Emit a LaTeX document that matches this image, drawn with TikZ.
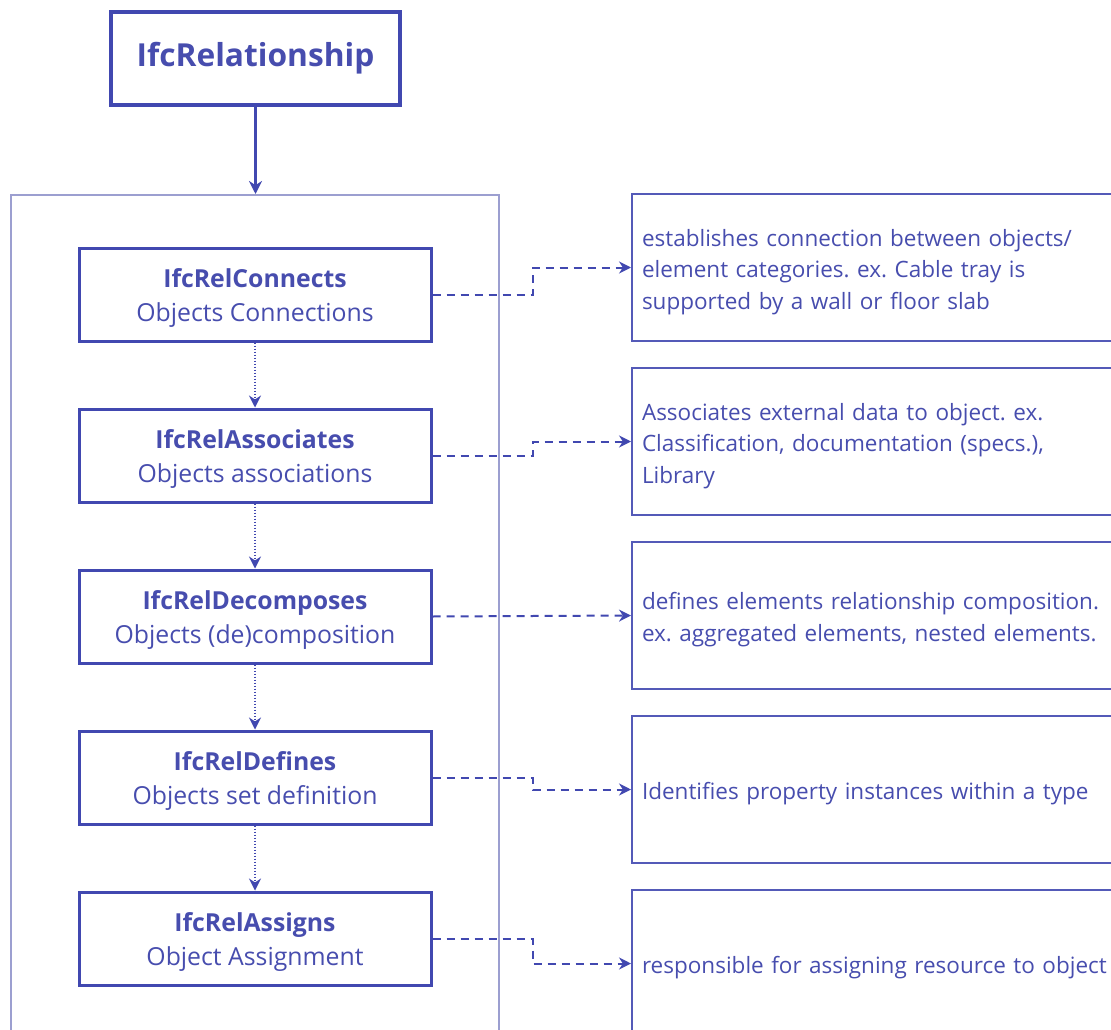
\documentclass[tikz,border=0pt]{standalone}
\usepackage{fontspec}
\setmainfont{Open Sans}
\usetikzlibrary{arrows.meta}
\definecolor{ink}{HTML}{4148B0}
\definecolor{txt}{HTML}{474DAE}
\definecolor{frame}{HTML}{9C9FD0}
\frenchspacing
% invisible rule that gives the first text line extra height
\newcommand\firstline[1]{\rule{0pt}{#1}}
\begin{document}
\begin{tikzpicture}[x=1pt,y=-1pt,
  titlebox/.style={draw=ink, line width=4.5pt, minimum width=289pt, minimum height=93pt,
    inner sep=0pt, text=txt, font=\fontsize{31.7}{38}\selectfont\bfseries},
  relbox/.style={draw=ink, line width=3pt, minimum width=352pt, minimum height=93pt,
    inner sep=0pt, align=center, text=txt, font=\fontsize{24.8}{34}\selectfont},
  descbox/.style={draw=ink!90, line width=2pt, anchor=west, minimum width=540pt,
    minimum height=147pt, inner xsep=2.5pt, inner ysep=0pt, text width=520pt, align=left,
    text=txt, font=\fontsize{22.5}{31.5}\selectfont},
  link/.style={draw=ink, line width=2pt, dash pattern=on 8pt off 6pt,
    -{Stealth[length=12pt,width=12pt]}},
  flow/.style={draw=ink, line width=1.3pt, dash pattern=on 1.3pt off 1.7pt,
    -{Stealth[length=12pt,width=12pt]}}]
\useasboundingbox (0,0) rectangle (1111,1030);
\clip (0,0) rectangle (1111,1030);

% root entity
\node[titlebox] (root) at (255.5,58.5) {IfcRelationship};

% grouping frame of the relationship subtypes
\node[draw=frame, line width=1.5pt, minimum width=488pt, minimum height=850pt,
  inner sep=0pt, anchor=north west] (group) at (10,194) {};

% subtypes
\node[relbox] (c1) at (255,294.5) {\firstline{25pt}\textbf{IfcRelConnects}\\Objects Connections};
\node[relbox] (c2) at (255,455.5) {\firstline{25pt}\textbf{IfcRelAssociates}\\Objects associations};
\node[relbox] (c3) at (255,616.5) {\firstline{25pt}\textbf{IfcRelDecomposes}\\Objects (de)composition};
\node[relbox] (c4) at (255,777.5) {\firstline{25pt}\textbf{IfcRelDefines}\\Objects set definition};
\node[relbox] (c5) at (255,938.5) {\firstline{25pt}\textbf{IfcRelAssigns}\\Object Assignment};

% descriptions
\node[descbox] (d1) at (631,267.5) {\firstline{25.5pt}establishes connection between objects/\\element categories. ex. Cable tray is\\supported by a wall or floor slab};
\node[descbox] (d2) at (631,441.5) {\firstline{25.5pt}Associates external data to object. ex.\\Classification, documentation (specs.),\\Library};
\node[descbox] (d3) at (631,615.5) {\firstline{25.5pt}defines elements relationship composition.\\ex. aggregated elements, nested elements.};
\node[descbox] (d4) at (631,789.5) {\firstline{25.5pt}Identifies property instances within a type};
\node[descbox] (d5) at (631,963.5) {\firstline{25.5pt}responsible for assigning resource to object};

% inheritance arrows
\draw[ink, line width=2.2pt, -{Stealth[length=13pt,width=13pt]}] (root.south) -- (root.south |- group.north);
\draw[flow] (c1.south) -- (c2.north);
\draw[flow] (c2.south) -- (c3.north);
\draw[flow] (c3.south) -- (c4.north);
\draw[flow] (c4.south) -- (c5.north);

% links to descriptions
\draw[link] (c1.east) -- ++(100,0) |- (d1.west);
\draw[link] (c2.east) -- ++(100,0) |- (d2.west);
\draw[link] (c3.east) -- (d3.west);
\draw[link] (c4.east) -- ++(100,0) |- (d4.west);
\draw[link] (c5.east) -- ++(100,0) |- (d5.west);
\end{tikzpicture}
\end{document}
